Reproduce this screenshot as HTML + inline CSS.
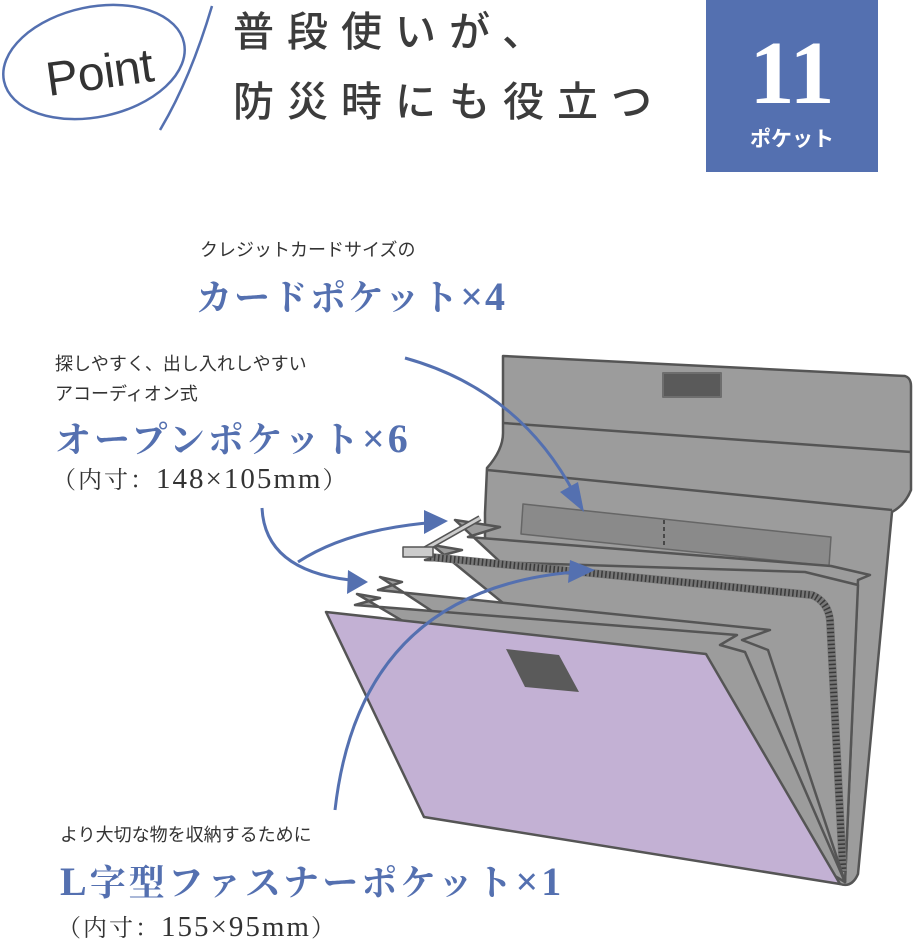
<!DOCTYPE html>
<html><head><meta charset="utf-8"><style>
body{margin:0;background:#fff;width:913px;height:946px;overflow:hidden;position:relative;font-family:"Liberation Sans","Noto Sans CJK JP",sans-serif}
.t{position:absolute;white-space:nowrap}
.title{left:233px;font-size:41px;color:#3c3c3c;letter-spacing:13px;font-weight:500;line-height:1}
.sm{font-size:18px;color:#333;line-height:1}
.big{font-family:"Noto Serif CJK SC","Liberation Serif",serif;font-weight:bold;color:#5470b0;font-size:36px;line-height:1;letter-spacing:3px}
.big .x,.big .n{font-family:"Liberation Serif",serif;font-size:40px}
.dim{font-family:"Noto Serif CJK SC","Liberation Serif",serif;font-size:24px;color:#333;line-height:1;letter-spacing:2px}
.dim .n{font-family:"Liberation Serif",serif;font-size:29px}
</style></head><body>
<svg width="913" height="946" style="position:absolute;left:0;top:0">
 <g fill="none" stroke="#5470b0" stroke-width="2.5">
  <ellipse cx="94" cy="62" rx="92" ry="55" transform="rotate(-12 94 62)"/>
  <path d="M212 6 Q190 80 160 130"/>
 </g>
 <text x="46" y="90" font-family="Liberation Sans,sans-serif" font-size="48" fill="#333" transform="rotate(-8 90 75)" textLength="108">Point</text>
 <rect x="706" y="0" width="172" height="172" fill="#5470b0"/>
 <text x="792" y="103" text-anchor="middle" font-family="Liberation Serif,serif" font-weight="bold" font-size="90" fill="#fff">11</text>
 <text x="792" y="146" text-anchor="middle" font-family="Liberation Sans,Noto Sans CJK JP,sans-serif" font-size="21" fill="#fff" font-weight="bold">ポケット</text>

 <g stroke="#555" stroke-width="2.5" stroke-linejoin="round">
  <path d="M503 356 L905 376 Q911 378 911 386 L911 490 Q905 505 892 512 L858 874 Q852 888 840 884 L485 540 L485 513 L487 468 Q503 450 503 433 Z" fill="#9c9c9c"/>
  <path d="M503 423 L911 452 M487 470 L892 510" fill="none"/>
  <rect x="663" y="373" width="58" height="24" fill="#5a5a5a" stroke="#6e6e6e" stroke-width="2"/>
  <path d="M523 504 L831 537 L829 566 L521 534 Z" fill="#8a8a8a" stroke="#666" stroke-width="1.5"/>
  <path d="M664 520 L664 548" stroke="#333" stroke-width="1.5" stroke-dasharray="4 3"/>
  <path d="M455 520 L500 527 L468 537 L831 566 L870 575 L858 580 L845 882 Z" fill="#9c9c9c"/>
  <path d="M432 545 L462 550 L425 560 L805 572 L858 585 L845 882 Z" fill="#9c9c9c"/>
  <path d="M430 557 L812 595 Q828 602 830 620 L843 872" fill="none" stroke="#777" stroke-width="8"/>
  <path d="M430 557 L812 595 Q828 602 830 620 L843 872" fill="none" stroke="#3a3a3a" stroke-width="7" stroke-dasharray="1.5 2.5"/>
  <path d="M380 577 L402 582 L378 590 L770 630 L742 640 L768 650 L845 882 Z" fill="#9c9c9c"/>
  <path d="M357 594 L380 598 L355 605 L737 635 L720 645 L745 652 L845 882 Z" fill="#9c9c9c"/>
  <path d="M326 612 L706 654 L840 884 L424 817 Z" fill="#c3b1d4"/>
  <path d="M506 649 L559 655 L579 692 L525 687 Z" fill="#5a5a5a" stroke="none"/>
  <path d="M420 552 L480 518" stroke="#555" stroke-width="6"/>
  <path d="M420 552 L480 518" stroke="#ccc" stroke-width="3"/>
  <rect x="403" y="547" width="30" height="10" fill="#ccc" stroke-width="1.5"/>
 </g>

 <g fill="none" stroke="#5470b0" stroke-width="3">
  <path d="M405 358 Q520 390 575 495"/>
  <path d="M262 508 Q265 570 350 580"/>
  <path d="M298 562 Q350 528 440 522"/>
  <path d="M335 810 Q360 590 575 572"/>
 </g>
 <g fill="#5470b0">
  <path d="M584 512 L560 492 L578 482 Z"/>
  <path d="M368 582 L348 570 L347 594 Z"/>
  <path d="M448 521 L424 510 L424 534 Z"/>
  <path d="M595 570 L570 560 L568 583 Z"/>
 </g>
</svg>
<div class="t title" style="top:12px">普段使いが、</div>
<div class="t title" style="top:82px">防災時にも役立つ</div>
<div class="t sm" style="left:200px;top:241px">クレジットカードサイズの</div>
<div class="t big" style="left:196px;top:277px;letter-spacing:2px">カードポケット<span class="x">×</span><span class="n">4</span></div>
<div class="t sm" style="left:55px;top:355px">探しやすく、出し入れしやすい</div>
<div class="t sm" style="left:55px;top:385px">アコーディオン式</div>
<div class="t big" style="left:55px;top:419px">オープンポケット<span class="x">×</span><span class="n">6</span></div>
<div class="t dim" style="left:52px;top:465px">（内寸：<span class="n">148×105mm</span>）</div>
<div class="t sm" style="left:60px;top:826px">より大切な物を収納するために</div>
<div class="t big" style="left:60px;top:862px"><span class="n">L</span>字型ファスナーポケット<span class="x">×</span><span class="n">1</span></div>
<div class="t dim" style="left:57px;top:913px">（内寸：<span class="n">155×95mm</span>）</div>
</body></html>
